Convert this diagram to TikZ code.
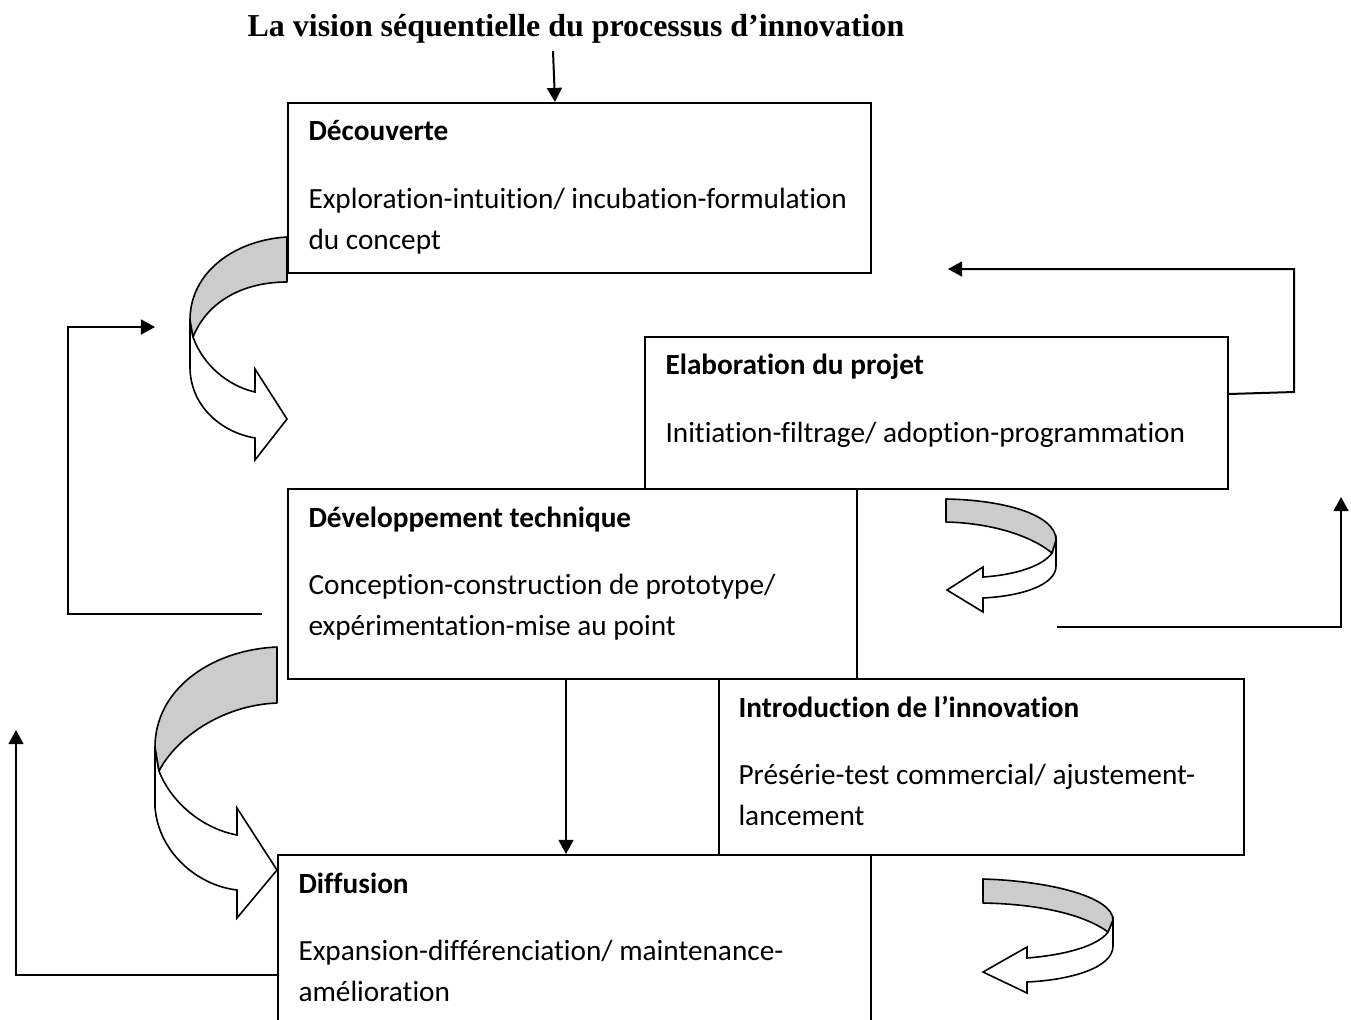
\documentclass[tikz,border=0pt]{standalone}
\usepackage{fontspec}
\setmainfont{Carlito}[Ligatures=NoCommon]
\newfontfamily\titlefont{Liberation Serif}
\usetikzlibrary{positioning, arrows.meta, calc}
\def\pxl{0.3759pt} % one pixel of the scan
\tikzset{
    x=\pxl, y=-\pxl, % coordinates are pixels, y runs down
    every node/.style={font=\fontsize{11}{15.4}\selectfont},
    stage/.style={ % Sets the properties for each stage box
        draw,
        fill=white,
        line width=0.75pt,
        anchor=north west,
        inner sep=0pt
    },
    stagetext/.style={ % Title and description inside a box (base = last line)
        anchor=base west,
        align=left,
        inner sep=0pt
    },
    flow/.style={ % Straight connectors with solid heads
        draw,
        line width=0.75pt,
        -{Triangle[length=5.3pt,width=5.6pt]}
    },
}

\begin{document}
\begin{tikzpicture}[
                twistback/.style={fill=black!20, draw, line width=0.6pt, line join=round},
                twistfront/.style={fill=white, draw, line width=0.6pt, line join=miter}
            ]
            \useasboundingbox (0,0) rectangle (1351,1019);
            \clip (0,0) rectangle (1351,1019);
            \node[anchor=base, font=\titlefont\bfseries\fontsize{12}{14}\selectfont]
                (title) at (576,37) {La vision séquentielle du processus d’innovation};

            % the five stages
            \node[stage, minimum width=583*\pxl, minimum height=170*\pxl] (dec)   at (287,102) {};
            \node[stage, minimum width=583*\pxl, minimum height=152*\pxl] (ela)   at (644,336) {};
            \node[stage, minimum width=569*\pxl, minimum height=190*\pxl] (dev)   at (287,488) {};
            \node[stage, minimum width=525*\pxl, minimum height=176*\pxl] (intro) at (718,678) {};
            \node[stage, minimum width=593*\pxl, minimum height=190*\pxl] (dif)   at (277,854) {};

            \node[stagetext] (dectext)   at ($(dec.north west)+(21,147)$)
                {\textbf{Découverte}\\[9.8pt]Exploration-intuition/ incubation-formulation\\du concept};
            \node[stagetext] (elatext)   at ($(ela.north west)+(21,106)$)
                {\textbf{Elaboration du projet}\\[9.8pt]Initiation-filtrage/ adoption-programmation};
            \node[stagetext] (devtext)   at ($(dev.north west)+(21,147)$)
                {\textbf{Développement technique}\\[9.8pt]Conception-construction de prototype/\\expérimentation-mise au point};
            \node[stagetext] (introtext) at ($(intro.north west)+(20,147)$)
                {\textbf{Introduction de l’innovation}\\[9.8pt]Présérie-test commercial/ ajustement-\\lancement};
            \node[stagetext] (diftext)   at ($(dif.north west)+(21,147)$)
                {\textbf{Diffusion}\\[9.8pt]Expansion-différenciation/ maintenance-\\amélioration};

            % free ends of the feedback lines
            \coordinate (fbA)    at (262,614);
            \coordinate (fbAend) at (155,327);
            \coordinate (fbBend) at (948,269);
            \coordinate (fbC)    at (1057,627);
            \coordinate (fbCend) at (1341,497);
            \coordinate (fbDend) at (16,730);

            \draw[flow] ($(title.south)+(-23,-2)$) -- ($(dec.north west)+(268,0)$);
            \draw[flow] (dev.south -| 566,0) -- (dif.north -| 566,0);
            \draw[flow] (fbA) -- (68,614) |- (fbAend);
            \draw[flow] (ela.east |- 0,394) -- (1294,392) -- (1294,269) -- (fbBend);
            \draw[flow] (fbC) -| (fbCend);
            \draw[flow] (dif.west |- 0,975) -| (fbDend);

            % twisted arrows between the stages
            \path[twistfront] (190,320) -- (190,367) .. controls (190,405) and (220,432) .. (255,438)
                    -- (255,460) -- (287,419) -- (255,369) -- (255,392)
                    .. controls (228,386) and (203,365) .. (193,337) -- cycle;
            \path[twistback] (287,237) .. controls (235,240) and (190,272) .. (190,320)
                    -- (193,337) .. controls (208,300) and (245,282) .. (287,282) -- cycle;

            \path[twistfront] (155,747) -- (155,807) .. controls (158,850) and (195,885) .. (237,890)
                    -- (237,918) -- (277,870) -- (237,808) -- (237,835)
                    .. controls (200,828) and (170,800) .. (159,771) -- cycle;
            \path[twistback] (277,647) .. controls (210,650) and (155,690) .. (155,747)
                    -- (159,771) .. controls (178,735) and (225,705) .. (277,703) -- cycle;

            \path[twistfront] (1056,540) -- (1056,566) .. controls (1056,585) and (1022,596) .. (983,598)
                    -- (983,612) -- (947,590) -- (983,567) -- (983,577)
                    .. controls (1015,575) and (1043,566) .. (1052,553) -- cycle;
            \path[twistback] (946,499) .. controls (1005,500) and (1056,515) .. (1056,540)
                    -- (1052,553) .. controls (1030,535) and (990,523) .. (946,522) -- cycle;

            \path[twistfront] (1113,920) -- (1113,946) .. controls (1113,968) and (1070,980) .. (1027,982)
                    -- (1027,993) -- (983,972) -- (1027,947) -- (1027,958)
                    .. controls (1065,955) and (1098,946) .. (1108,932) -- cycle;
            \path[twistback] (983,879) .. controls (1050,881) and (1113,897) .. (1113,920)
                    -- (1108,932) .. controls (1085,915) and (1040,904) .. (983,903) -- cycle;
        \end{tikzpicture}
\end{document}
